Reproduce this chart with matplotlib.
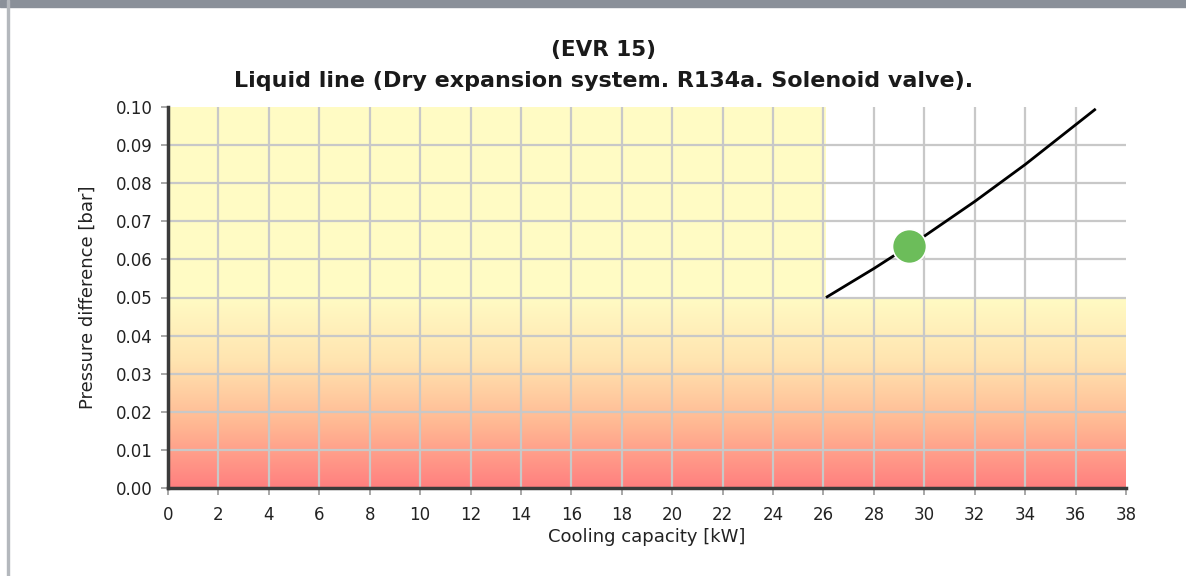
import numpy as np
import matplotlib
matplotlib.use("Agg")
import matplotlib.pyplot as plt
from matplotlib.colors import LinearSegmentedColormap
from matplotlib.patches import Rectangle

# Data
title_top = "(EVR 15)"
title_main = "Liquid line (Dry expansion system. R134a. Solenoid valve)."
x_label = "Cooling capacity [kW]"
y_label = "Pressure difference [bar]"

curve_x = [26.1, 28.0, 30.0, 32.0, 34.0, 36.8]
curve_y = [0.050, 0.0576, 0.0661, 0.0752, 0.0849, 0.0995]
point_x = [29.4]
point_y = [0.0634]

ok_zone = (0, 26.1, 0.05, 0.10)      # x0, x1, y0, y1 (solid yellow)
low_zone = (0, 38, 0.0, 0.05)        # gradient red -> yellow

x_ticks = list(range(0, 39, 2))
y_ticks = [0.00, 0.01, 0.02, 0.03, 0.04, 0.05, 0.06, 0.07, 0.08, 0.09, 0.10]

plt.rcParams["font.family"] = ["DejaVu Sans"]

fig = plt.figure(figsize=(11.86, 5.76), dpi=100)

# frame of the screenshot
fig.patches.append(Rectangle((0, 1 - 7 / 576), 1, 7 / 576, transform=fig.transFigure,
                             color="#8a9099", zorder=0))
fig.patches.append(Rectangle((7 / 1186, 0), 2 / 1186, 1, transform=fig.transFigure,
                             color="#b4b8bd", zorder=0))

ax = fig.add_axes([168 / 1186, 1 - 488 / 576, (1126 - 168) / 1186, (488 - 107) / 576])

# background zones
ax.add_patch(Rectangle((ok_zone[0], ok_zone[2]), ok_zone[1] - ok_zone[0], ok_zone[3] - ok_zone[2],
                       color="#fffbc4", zorder=0, lw=0))
cmap = LinearSegmentedColormap.from_list("warn", ["#ff7f7f", "#ffb893", "#ffe4b0", "#fffbc4"])
grad = np.linspace(0, 1, 256).reshape(-1, 1)
ax.imshow(grad, cmap=cmap, origin="lower", aspect="auto", zorder=0,
          extent=low_zone)

# grid
for xv in x_ticks[1:-1]:
    ax.plot([xv, xv], [0, 0.10], color="#c8c8c8", lw=1.6, zorder=1)
for yv in y_ticks[1:-1]:
    ax.plot([0, 38], [yv, yv], color="#c8c8c8", lw=1.6, zorder=1)

ax.plot(curve_x, curve_y, color="black", lw=2, zorder=3, solid_capstyle="butt")
ax.scatter(point_x, point_y, s=600, color="#6cbd5a", edgecolor="white", linewidth=1.2, zorder=4)

ax.set_xlim(0, 38)
ax.set_ylim(0, 0.10)
ax.set_xticks(x_ticks)
ax.set_yticks(y_ticks)
ax.set_yticklabels([f"{v:.2f}" for v in y_ticks])
ax.tick_params(axis="both", colors="#999999", length=5, width=1.2, labelsize=12,
               labelcolor="#222222")
ax.tick_params(axis="x", pad=8)
ax.tick_params(axis="y", pad=6)

for side in ["top", "right"]:
    ax.spines[side].set_visible(False)
for side in ["left", "bottom"]:
    ax.spines[side].set_color("#3a3a3a")
    ax.spines[side].set_linewidth(2.5)
    ax.spines[side].set_zorder(5)

ax.set_xlabel(x_label, fontsize=13, color="#222222", labelpad=3)
ax.set_ylabel(y_label, fontsize=13, color="#222222", labelpad=14)

fig.text(604 / 1186, 1 - 50 / 576, title_top, ha="center", va="center",
         fontsize=15.5, fontweight="bold", color="#1a1a1a")
fig.text(604 / 1186, 1 - 81 / 576, title_main, ha="center", va="center",
         fontsize=16, fontweight="bold", color="#1a1a1a")

fig.savefig("out.png", dpi=100, facecolor="white")
